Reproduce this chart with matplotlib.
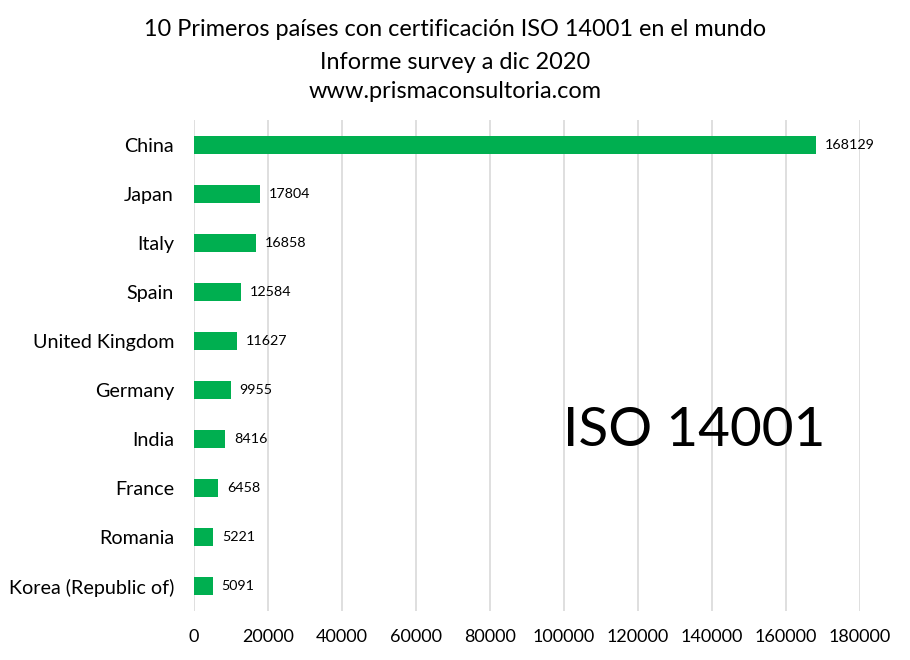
import matplotlib
matplotlib.use('Agg')
import matplotlib.pyplot as plt

# ---- data ----
countries = ['China', 'Japan', 'Italy', 'Spain', 'United Kingdom',
             'Germany', 'India', 'France', 'Romania', 'Korea (Republic of)']
certificates = [168129, 17804, 16858, 12584, 11627, 9955, 8416, 6458, 5221, 5091]
xticks = list(range(0, 180001, 20000))

BAR_GREEN = '#00AF50'
GRID_GRAY = '#D9D9D9'

plt.rcParams['font.family'] = ['Lato', 'DejaVu Sans']

fig = plt.figure(figsize=(9.1, 6.6), dpi=100)
ax = fig.add_axes([0.2132, 0.075, 0.7320, 0.7425])

ypos = list(range(len(countries)))[::-1]
ax.barh(ypos, certificates, height=0.35, color=BAR_GREEN, zorder=3)

for y, v in zip(ypos, certificates):
    ax.text(v + 2400, y, str(v), va='center', ha='left', fontsize=10.3,
            color='black', zorder=4)

ax.set_yticks(ypos)
ax.set_yticklabels(countries, fontsize=14.2)
ax.set_xticks(xticks)
ax.set_xticklabels([str(t) for t in xticks], fontsize=13)
ax.set_xlim(0, 180000)
ax.set_ylim(-0.5, len(countries) - 0.5)

ax.grid(axis='x', color=GRID_GRAY, linewidth=1.2, zorder=0)
ax.tick_params(axis='y', length=0, pad=14.4)
ax.tick_params(axis='x', length=0, pad=13)
for s in ax.spines.values():
    s.set_visible(False)

fig.text(0.763, 0.348, 'ISO 14001', fontsize=39.5,
         ha='center', va='center', color='black')

fig.text(0.5, 0.955, '10 Primeros países con certificación ISO 14001 en el mundo',
         ha='center', va='center', fontsize=16.9)
fig.text(0.5, 0.905, 'Informe survey a dic 2020', ha='center', va='center', fontsize=16.9)
fig.text(0.5, 0.861, 'www.prismaconsultoria.com', ha='center', va='center', fontsize=16.9)

fig.savefig('out.png', dpi=100, facecolor='white')
